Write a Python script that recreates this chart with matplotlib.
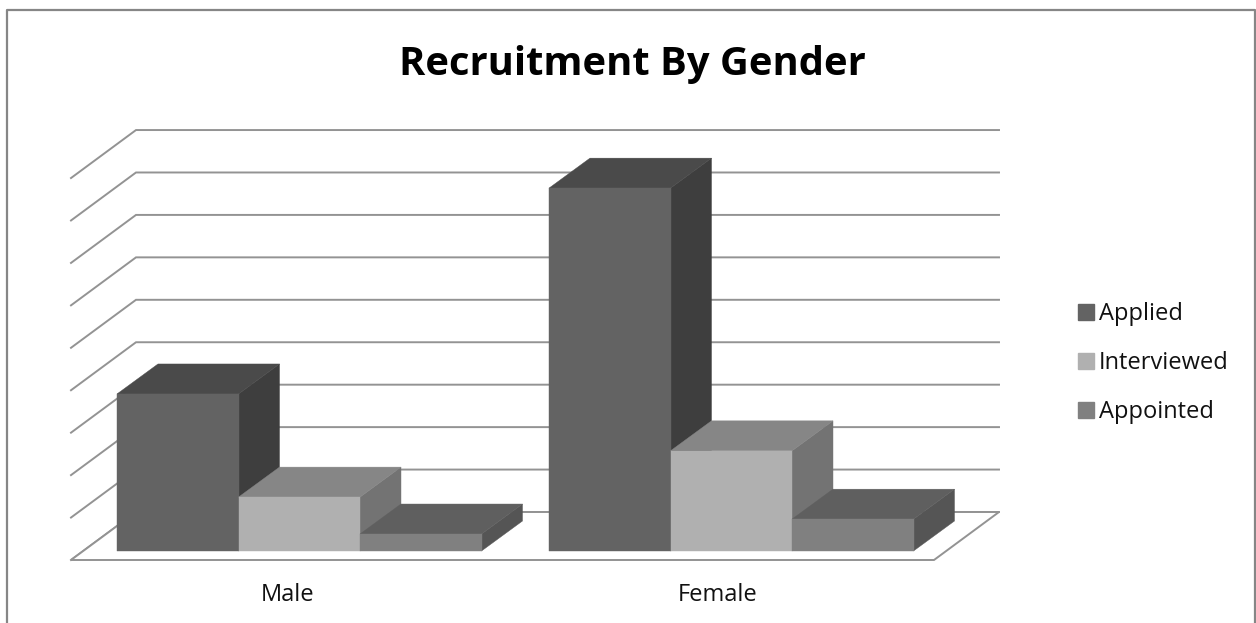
# Recruitment by gender, 3D looking clustered columns
import matplotlib
matplotlib.use("Agg")
import matplotlib.pyplot as plt
from matplotlib.patches import Polygon, Patch, Rectangle

# Data
genders = ["Male", "Female"]
series_names = ["Applied", "Interviewed", "Appointed"]
applied = [37, 85.5]
interviewed = [12.7, 23.6]
appointed = [4, 7.5]
grid_values = [0, 10, 20, 30, 40, 50, 60, 70, 80, 90]

# Colours of each series: front, top, side
colors = [("#636363", "#4a4a4a", "#3e3e3e"),
          ("#b0b0b0", "#868686", "#737373"),
          ("#808080", "#5f5f5f", "#555555")]
grid_color = "#939393"

# Layout of the fake 3D scene, in figure pixels
px_per_value = 4.244
wall_bottom = 512
wall_left = 136
wall_right = 999
floor_dx = 65
floor_dy = 48
bar_base = 551
bar_dx = 41
bar_dy = 30
bar_width = 121.5
group_left = [117, 549]
label_x = [288, 718]


def value_to_y(base, value):
    """Convert a value to a pixel height above a base line"""
    return base - value * px_per_value


def draw_bar(ax, x, value, series):
    """Draw one column: side and top first, then the front"""
    front, top, side = colors[series]
    y = value_to_y(bar_base, value)
    x2 = x + bar_width
    ax.add_patch(Polygon([(x2, bar_base), (x2 + bar_dx, bar_base - bar_dy),
                          (x2 + bar_dx, y - bar_dy), (x2, y)],
                         closed=True, fc=side, ec=side, lw=0.3, zorder=3))
    ax.add_patch(Polygon([(x, y), (x + bar_dx, y - bar_dy),
                          (x2 + bar_dx, y - bar_dy), (x2, y)],
                         closed=True, fc=top, ec=top, lw=0.3, zorder=3))
    ax.add_patch(Rectangle((x, y), bar_width, bar_base - y, fc=front, ec=front,
                           lw=0.3, zorder=3))


fig = plt.figure(figsize=(12.56, 6.23), dpi=100)
ax = fig.add_axes([0, 0, 1, 1])
ax.set_xlim(0, 1256)
ax.set_ylim(623, 0)
ax.axis("off")

# Chart border
ax.plot([7, 7, 1255, 1255], [623, 10, 10, 623], color="#868686", lw=1.6,
        zorder=1)

# Gridlines on the back wall and the side wall
for v in grid_values:
    y = value_to_y(wall_bottom, v)
    ax.plot([wall_left - floor_dx, wall_left, wall_right],
            [y + floor_dy, y, y], color=grid_color, lw=1.4, zorder=2,
            solid_joinstyle="miter")

# Floor
ax.add_patch(Polygon([(wall_left - floor_dx, wall_bottom + floor_dy),
                      (wall_right - floor_dx, wall_bottom + floor_dy),
                      (wall_right, wall_bottom), (wall_left, wall_bottom)],
                     closed=True, fc="white", ec=grid_color, lw=1.4, zorder=2))

# Bars
for g in range(len(genders)):
    for s, values in enumerate([applied, interviewed, appointed]):
        draw_bar(ax, group_left[g] + s * bar_width, values[g], s)
    ax.text(label_x[g], 595, genders[g], ha="center", va="center", fontsize=17,
            family="Open Sans", color="#111111")

ax.text(632, 65, "Recruitment By Gender", ha="center", va="center",
        fontsize=28.7, fontweight="bold", family="Open Sans", color="black")

# Legend
handles = [Patch(fc=colors[i][0], ec=colors[i][0], label=series_names[i])
           for i in range(len(series_names))]
ax.legend(handles=handles, loc="upper left", bbox_to_anchor=(1078, 302.5),
          bbox_transform=ax.transData, frameon=False, borderpad=0,
          borderaxespad=0, handlelength=0.66, handleheight=0.66,
          handletextpad=0.22, labelspacing=1.05,
          prop={"family": "Open Sans", "size": 17}, labelcolor="#111111")

fig.savefig("out.png", dpi=100)
